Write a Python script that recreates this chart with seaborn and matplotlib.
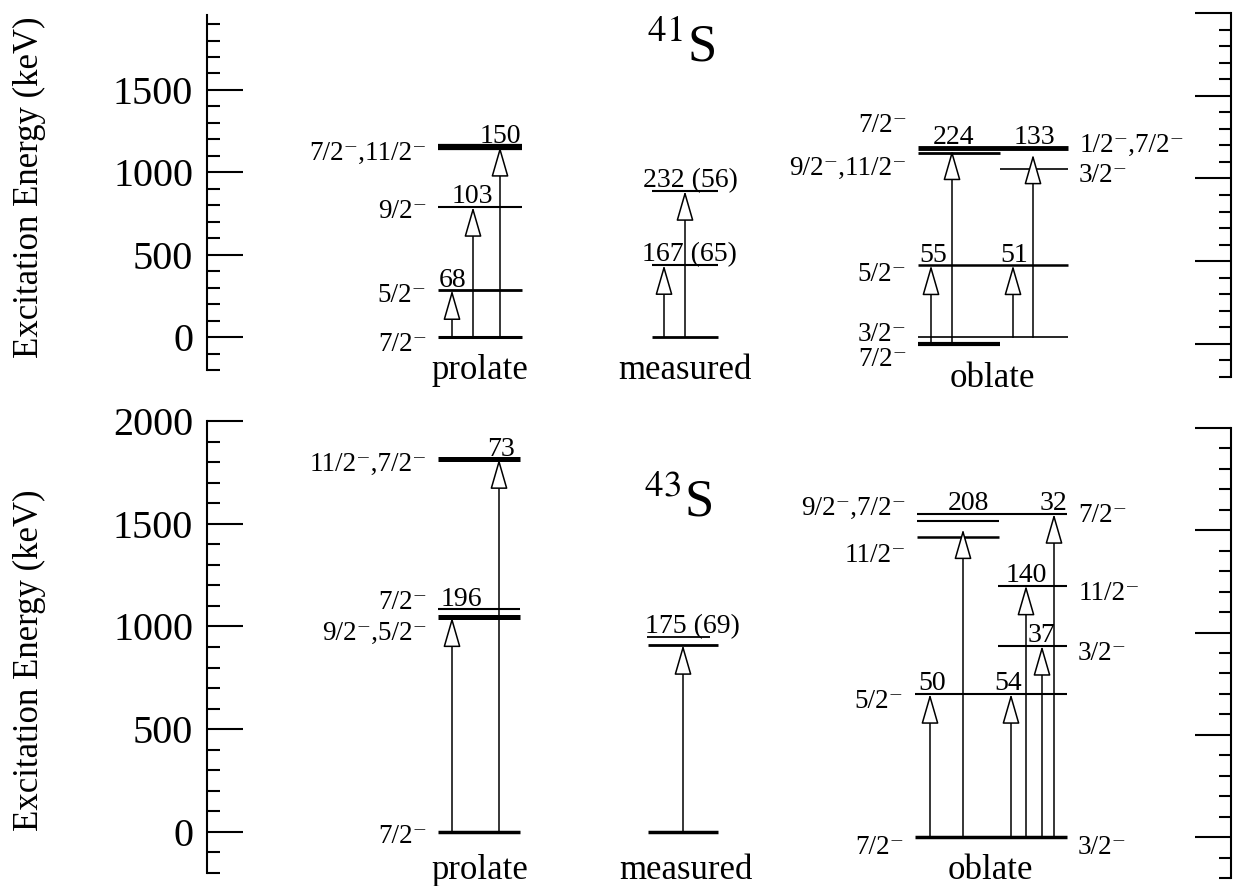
import matplotlib
matplotlib.use("Agg")
import matplotlib.pyplot as plt
import seaborn as sns
from matplotlib.ticker import MultipleLocator

# ---------------- 41S level energies (keV) ----------------
pro41_E = [0, 285, 790, 1155]
pro41_J = ["7/2⁻", "5/2⁻", "9/2⁻", "7/2⁻,11/2⁻"]
pro41_from = [0, 0, 0]
pro41_to = [285, 790, 1155]
pro41_B = ["68", "103", "150"]
pro41_B_at = [285, 790, 1155]

mea41_E = [0, 437, 887]
mea41_from = [0, 0]
mea41_to = [437, 887]
mea41_B = ["167 (65)", "232 (56)"]
mea41_B_at = [437, 887]

obl41_E = [0, 40, 475, 1055, 1155, 1185]
obl41_J_left = ["7/2⁻", "3/2⁻", "5/2⁻", "", "9/2⁻,11/2⁻", "7/2⁻"]
obl41_J_right = ["", "", "", "3/2⁻", "", "1/2⁻,7/2⁻"]
obl41_from = [0, 0, 40, 40]
obl41_to = [475, 1170, 475, 1145]
obl41_B = ["55", "224", "51", "133"]
obl41_B_at = [475, 1185, 475, 1185]

# ---------------- 43S level energies (keV) ----------------
pro43_E = [0, 1045, 1085, 1815]
pro43_J = ["7/2⁻", "9/2⁻,5/2⁻", "7/2⁻", "11/2⁻,7/2⁻"]
pro43_from = [0, 0]
pro43_to = [1045, 1815]
pro43_B = ["196", "73"]
pro43_B_at = [1085, 1815]

mea43_E = [0, 910, 950]
mea43_from = [0]
mea43_to = [910]
mea43_B = ["175 (69)"]
mea43_B_at = [950]

obl43_E = [0, 700, 935, 1230, 1465, 1545, 1580]
obl43_J_left = ["7/2⁻", "5/2⁻", "", "", "11/2⁻", "9/2⁻,7/2⁻", ""]
obl43_J_right = ["3/2⁻", "", "3/2⁻", "11/2⁻", "", "", "7/2⁻"]
obl43_from = [0, 0, 0, 0, 0, 0]
obl43_to = [700, 1505, 700, 1230, 935, 1580]
obl43_B = ["50", "208", "54", "140", "37", "32"]
obl43_B_at = [700, 1580, 700, 1230, 935, 1580]

# ---------------- layout (x in figure-pixel units) ----------------
lay_pro41 = dict(span=[(438, 522)] * 4, lw=[2.2, 2.0, 1.5, 4.5],
                 dy_left=[-3, -2, -1, -2.5], dy_right=[0] * 4,
                 arrow_x=[452, 473, 500], text_x=[453, 472, 500], text_ha="center",
                 name="prolate", name_x=480, name_dy=-12)
lay_mea41 = dict(span=[(652, 718)] * 3, lw=[2.0, 1.5, 1.5],
                 dy_left=[0] * 3, dy_right=[0] * 3,
                 arrow_x=[664, 685], text_x=[642, 643], text_ha="left",
                 name="measured", name_x=685, name_dy=-12)
lay_obl41 = dict(span=[(918, 1000), (918, 1068), (918, 1068), (1000, 1068), (918, 1000), (918, 1068)],
                 lw=[3.0, 1.2, 1.8, 1.2, 2.0, 3.5],
                 dy_left=[-9.4, 4.3, -4.3, 0, -9.4, 18], dy_right=[0, 0, 0, -2, 0, 3.6],
                 arrow_x=[931, 952, 1013, 1033], text_x=[933, 954, 1014, 1034], text_ha="center",
                 name="oblate", name_x=992, name_dy=-13)
lay_pro43 = dict(span=[(438, 520)] * 4, lw=[2.5, 3.6, 1.5, 3.6],
                 dy_left=[-1.5, -9.4, 6.5, -2], dy_right=[0] * 4,
                 arrow_x=[452, 499], text_x=[461, 501], text_ha="center",
                 name="prolate", name_x=480, name_dy=-16)
lay_mea43 = dict(span=[(648, 718), (648, 718), (647, 710)], lw=[2.5, 2.0, 1.3],
                 dy_left=[0] * 3, dy_right=[0] * 3,
                 arrow_x=[683], text_x=[645], text_ha="left",
                 name="measured", name_x=686, name_dy=-16)
lay_obl43 = dict(span=[(915, 1067), (915, 1067), (998, 1067), (998, 1067), (917, 999), (917, 999), (917, 1067)],
                 lw=[2.5, 1.5, 1.5, 1.5, 1.8, 1.5, 1.5],
                 dy_left=[-5, -3, 0, 0, -11, 11.5, 0], dy_right=[-5, 0, -3, -3.6, 0, 0, 0.7],
                 arrow_x=[930, 963, 1011, 1026, 1042, 1054],
                 text_x=[932, 968, 1008, 1026, 1041, 1053], text_ha="center",
                 name="oblate", name_x=990, name_dy=-12)

FS_J, FS_B, FS_NAME = 19.5, 20, 25
ARROW = dict(arrowstyle="-|>,head_length=1.9,head_width=0.55", mutation_scale=10,
             lw=1.1, fc="white", ec="black", shrinkA=0, shrinkB=0)

sns.set_style("ticks", {"axes.edgecolor": "black", "ytick.color": "black",
                        "text.color": "black", "axes.labelcolor": "black"})
plt.rcParams["font.family"] = ["Liberation Serif", "DejaVu Serif"]
plt.rcParams["mathtext.fontset"] = "stix"

W, H = 1240, 886
fig = plt.figure(figsize=(W / 100, H / 100), dpi=100)


def px_axes(x0, y0, x1, y1, ymax, side):
    ax = fig.add_axes([x0 / W, 1 - y1 / H, (x1 - x0) / W, (y1 - y0) / H])
    ax.set_facecolor("none")
    ax.set_xlim(x0, x1)
    ax.set_ylim(-200, ymax)
    ax.set_xticks([])
    for s in ["top", "bottom", "left", "right"]:
        ax.spines[s].set_visible(s == side)
        ax.spines[s].set_linewidth(1.5)
    ax.yaxis.set_major_locator(MultipleLocator(500))
    ax.yaxis.set_minor_locator(MultipleLocator(100))
    if side == "right":
        ax.yaxis.tick_right()
        ax.tick_params(axis="y", labelright=False)
    ax.tick_params(axis="y", which="major", direction="in", length=26, width=1.5,
                   labelsize=29, pad=10)
    ax.tick_params(axis="y", which="minor", direction="in", length=9, width=1.5)
    return ax


def draw_column(ax, E, lay, J_left=None, J_right=None, e_from=(), e_to=(), B=(), B_at=()):
    for i, e in enumerate(E):
        x0, x1 = lay["span"][i]
        ax.hlines(e, x0, x1, color="black", lw=lay["lw"][i])
        if J_left and J_left[i]:
            ax.annotate(J_left[i], xy=(x0, e), xytext=(-8, lay["dy_left"][i]),
                        textcoords="offset points", ha="right", va="center_baseline",
                        fontsize=FS_J)
        if J_right and J_right[i]:
            ax.annotate(J_right[i], xy=(x1, e), xytext=(8, lay["dy_right"][i]),
                        textcoords="offset points", ha="left", va="center_baseline",
                        fontsize=FS_J)
    for k in range(len(e_to)):
        x = lay["arrow_x"][k]
        ax.annotate("", xy=(x, e_to[k]), xytext=(x, e_from[k]), arrowprops=ARROW)
        ax.annotate(B[k], xy=(lay["text_x"][k], B_at[k]), xytext=(0, 2.5),
                    textcoords="offset points", ha=lay["text_ha"], va="baseline",
                    fontsize=FS_B)
    ax.annotate(lay["name"], xy=(lay["name_x"], 0), xytext=(0, lay["name_dy"]),
                textcoords="offset points", ha="center", va="top", fontsize=FS_NAME)


# top panel: 41S
ax_tl = px_axes(207, 15, 1231, 370, 1955, "left")
ax_tr = px_axes(207, 13, 1231, 377, 2000, "right")
ax_tl.set_ylabel("Excitation Energy (keV)", fontsize=25)
ax_tl.yaxis.set_label_coords(-0.157, 0.515)
draw_column(ax_tl, pro41_E, lay_pro41, pro41_J, None, pro41_from, pro41_to, pro41_B, pro41_B_at)
draw_column(ax_tl, mea41_E, lay_mea41, None, None, mea41_from, mea41_to, mea41_B, mea41_B_at)
draw_column(ax_tr, obl41_E, lay_obl41, obl41_J_left, obl41_J_right, obl41_from, obl41_to, obl41_B, obl41_B_at)
ax_tl.text(0.463, 0.868, r"$^{41}$S", transform=ax_tl.transAxes, fontsize=38,
           ha="center", va="baseline")

# bottom panel: 43S
ax_bl = px_axes(207, 421, 1231, 873, 2000, "left")
ax_br = px_axes(207, 428, 1231, 878, 2000, "right")
ax_bl.set_ylabel("Excitation Energy (keV)", fontsize=25)
ax_bl.yaxis.set_label_coords(-0.157, 0.471)
draw_column(ax_bl, pro43_E, lay_pro43, pro43_J, None, pro43_from, pro43_to, pro43_B, pro43_B_at)
draw_column(ax_bl, mea43_E, lay_mea43, None, None, mea43_from, mea43_to, mea43_B, mea43_B_at)
draw_column(ax_br, obl43_E, lay_obl43, obl43_J_left, obl43_J_right, obl43_from, obl43_to, obl43_B, obl43_B_at)
ax_bl.text(0.46, 0.788, r"$^{43}$S", transform=ax_bl.transAxes, fontsize=38,
           ha="center", va="baseline")

fig.savefig("out.png", dpi=100)
